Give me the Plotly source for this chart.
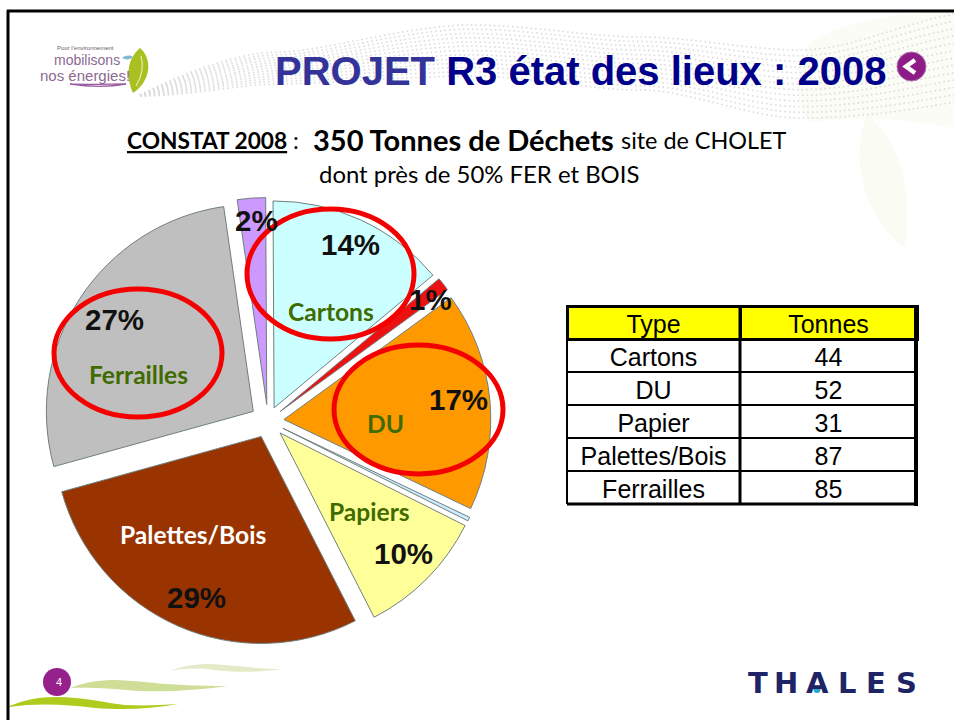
import plotly.graph_objects as go

W, H = 954, 720
types = ["Cartons", "DU", "Papier", "Palettes/Bois", "Ferrailles"]
tonnes = [44, 52, 31, 87, 85]
slice_names = ["Cartons", "Autre 1", "DU", "Autre 2", "Papiers", "Palettes/Bois", "Ferrailles", "Autre 3"]
slice_values = [14.0, 1.05, 17.1, 0.3, 10.1, 28.2, 27, 2.2]
slice_colors = ["#CCFFFF", "#EE1111", "#FF9900", "#CCECFF", "#FFFF99", "#993300", "#BFBFBF", "#CC99FF"]
slice_pull = [0.07, 0.075, 0.077, 0.08, 0.082, 0.082, 0.085, 0.08]
pct_labels = ["14%", "1%", "17%", "10%", "29%", "27%", "2%"]
pct_xy = [(350, 244), (430, 299), (458, 399), (403, 553), (196, 597), (114, 319), (256, 220)]
cat_labels = ["Cartons", "Ferrailles", "DU", "Papiers", "Palettes/Bois"]
cat_xy = [(331, 311), (138, 374), (385, 423), (369, 511), (193, 534)]
cat_cols = ["#3F6B00", "#3F6B00", "#3F6B00", "#3F6B00", "#FFFFFF"]
ellipses = [(247, 209, 414, 339), (54, 289, 222, 417), (334, 345, 503, 474)]
thales_letters = list("THALES")
thales_x = [758, 786, 817, 847, 876, 906]


def px(x):
    return x / W


def py(y):
    return 1 - y / H


fig = go.Figure()
fig.add_trace(go.Pie(
    labels=slice_names, values=slice_values, sort=False, direction="clockwise", rotation=-0.3,
    pull=slice_pull, textinfo="none", hoverinfo="label+percent", showlegend=False,
    marker=dict(colors=slice_colors, line=dict(color="#6F7F7F", width=1)),
    domain=dict(x=[px(43.5), px(492.5)], y=[py(645.5), py(196.5)]),
))
fig.add_trace(go.Table(
    domain=dict(x=[px(567), px(917)], y=[py(505), py(306)]),
    columnwidth=[173, 177],
    header=dict(values=["Type", "Tonnes"], fill_color="#FFFF00", height=33,
                line=dict(color="black", width=3),
                font=dict(family="Liberation Sans", size=25, color="black"), align="center"),
    cells=dict(values=[types, tonnes], fill_color="white", height=33,
               line=dict(color="black", width=2),
               font=dict(family="Liberation Sans", size=25, color="black"), align="center"),
))


def path_shape(d, fill=None, line=None, width=0, dash=None, layer="below"):
    return dict(type="path", xref="x", yref="y", path=d, fillcolor=fill or "rgba(0,0,0,0)",
                line=dict(color=line or "rgba(0,0,0,0)", width=width, dash=dash or "solid"), layer=layer)


shapes = []
# faint leaves
shapes += [
    path_shape("M 812 42 C 840 22 900 12 954 10 L 954 128 C 910 120 860 115 812 122 C 795 110 790 70 812 42 Z", "#FBFCF5"),
    path_shape("M 868 115 C 850 150 860 215 905 248 C 912 195 905 150 868 115 Z", "#FAFBF3"),
]
# dotted band
top = [(140, 95), (280, 52), (470, 25), (640, 37), (800, 50), (954, 14)]
bot = [(140, 96), (280, 84), (470, 76), (640, 90), (800, 118), (954, 102)]
N = 12
for i in range(N + 1):
    t = i / N
    p = [(a[0], a[1] + (b[1] - a[1]) * t) for a, b in zip(top, bot)]
    d = f"M {p[0][0]} {p[0][1]:.1f} C 190 {p[0][1] - 25 * (1 - t):.1f} 240 {p[1][1]:.1f} {p[1][0]} {p[1][1]:.1f} "
    d += f"S 410 {p[2][1]:.1f} {p[2][0]} {p[2][1]:.1f} S 590 {p[3][1]:.1f} {p[3][0]} {p[3][1]:.1f} "
    d += f"S 750 {p[4][1]:.1f} {p[4][0]} {p[4][1]:.1f} S 900 {p[5][1] + 10:.1f} {p[5][0]} {p[5][1]:.1f}"
    shapes.append(path_shape(d, None, "#DCDCDC", 1.6, "1.6px,3px"))
# logo
shapes += [
    path_shape("M 140 48 C 152 58 152 80 133 93 C 126 78 126 60 140 48 Z", "#A8C020"),
    path_shape("M 136 86 C 142 76 144 66 141 56", None, "#E4EBB0", 1.2),
    path_shape("M 70 84 C 90 87 110 87 126 84 C 110 84 90 85 70 84 Z", None, "#9C5AA0", 1.3),
    path_shape("M 122 58 C 126 55 130 55 133 57 C 130 60 126 60 122 58 Z", "#7FB8D0"),
]
# back button
shapes += [
    dict(type="circle", xref="x", yref="y", x0=897, x1=926, y0=52, y1=81, fillcolor="#8E1C86",
         line=dict(color="#B070B0", width=1), layer="below"),
    path_shape("M 915 60 L 906 66.5 L 915 73", None, "white", 4.5),
]
# footer
shapes += [
    path_shape("M 9 706 C 25 700 38 697 55 697 C 85 697 105 703 125 705 C 145 706 160 705 178 704 C 150 709 125 710 95 708 C 65 704 35 703 9 707 Z", "#AFCB1E"),
    path_shape("M 70 688 C 85 682 100 680 115 680 C 145 681 165 686 228 686 C 200 690 170 692 140 691 C 115 689 90 687 70 688 Z", "#CFDE96"),
    path_shape("M 170 671 C 182 666 195 664 210 664 C 235 665 255 669 284 669 C 260 672 235 673 215 670 C 200 668 185 668 170 671 Z", "#E3EAC8"),
    dict(type="circle", xref="x", yref="y", x0=43, x1=71, y0=668, y1=696, fillcolor="#96208C",
         line=dict(width=0), layer="above"),
    dict(type="circle", xref="x", yref="y", x0=813.5, x1=820.5, y0=686, y1=693, fillcolor="#25A9C8",
         line=dict(width=0), layer="above"),
]
# frame
shapes += [
    dict(type="line", xref="x", yref="y", x0=7, x1=954, y0=11, y1=11, line=dict(color="black", width=3)),
    dict(type="line", xref="x", yref="y", x0=8, x1=8, y0=10, y1=720, line=dict(color="black", width=3)),
]
for x0, y0, x1, y1 in ellipses:
    shapes.append(dict(type="circle", xref="x", yref="y", x0=x0, x1=x1, y0=y0, y1=y1,
                       line=dict(color="#F40000", width=5), layer="above"))
# heavier table rules
shapes += [
    dict(type="line", xref="x", yref="y", x0=740, x1=740, y0=306, y1=505, line=dict(color="black", width=3), layer="above"),
    dict(type="line", xref="x", yref="y", x0=916, x1=916, y0=306, y1=506, line=dict(color="black", width=4), layer="above"),
    dict(type="line", xref="x", yref="y", x0=567, x1=918, y0=504, y1=504, line=dict(color="black", width=3), layer="above"),
]
fig.update_layout(shapes=shapes)


def note(x, y, text, size, color="black", family="Lato", anchor="center"):
    fig.add_annotation(x=x, y=y, xref="x", yref="y", text=text, showarrow=False,
                       font=dict(family=family, size=size, color=color), xanchor=anchor, yanchor="middle",
                       borderpad=0, borderwidth=0)


note(275, 71, "<b><span style='color:#333399'>PROJET</span> R3 état des lieux : 2008</b>", 40, "#00008B",
     "Liberation Sans", "left")
note(127, 140, "<b><u>CONSTAT 2008</u></b>", 22.7, anchor="left")
note(293, 140, ":", 23, anchor="left")
note(313, 139, "<b>350 Tonnes de Déchets</b>", 29, anchor="left")
note(621, 140, "site de CHOLET", 23.4, anchor="left")
note(319, 173, "dont près de 50% FER et BOIS", 23.9, anchor="left")
for t, (x, y) in zip(pct_labels, pct_xy):
    note(x, y, f"<b>{t}</b>", 29.5, "#111111", "Liberation Sans")
for t, (x, y), c in zip(cat_labels, cat_xy, cat_cols):
    note(x, y, f"<b>{t}</b>", 24.6, c)
note(85, 48, "Pour l'environnement", 6, "#6B5A6B", "Liberation Sans")
note(87, 60, "mobilisons", 14, "#8C6A92", "Liberation Sans")
note(85, 75.5, "nos énergies!", 15, "#8C6A92", "Liberation Sans")
note(59, 682, "4", 11, "white", "Liberation Sans")
for ch, x in zip(thales_letters, thales_x):
    note(x, 683, f"<b>{ch}</b>", 29, "#1F2466", "DejaVu Sans")

fig.update_layout(
    width=W, height=H, margin=dict(l=0, r=0, t=0, b=0), paper_bgcolor="white", plot_bgcolor="white",
    xaxis=dict(range=[0, W], visible=False, fixedrange=True),
    yaxis=dict(range=[H, 0], visible=False, fixedrange=True),
)
fig.write_html("out.html", post_script="document.body.style.margin='0';", config={"displayModeBar": False})
